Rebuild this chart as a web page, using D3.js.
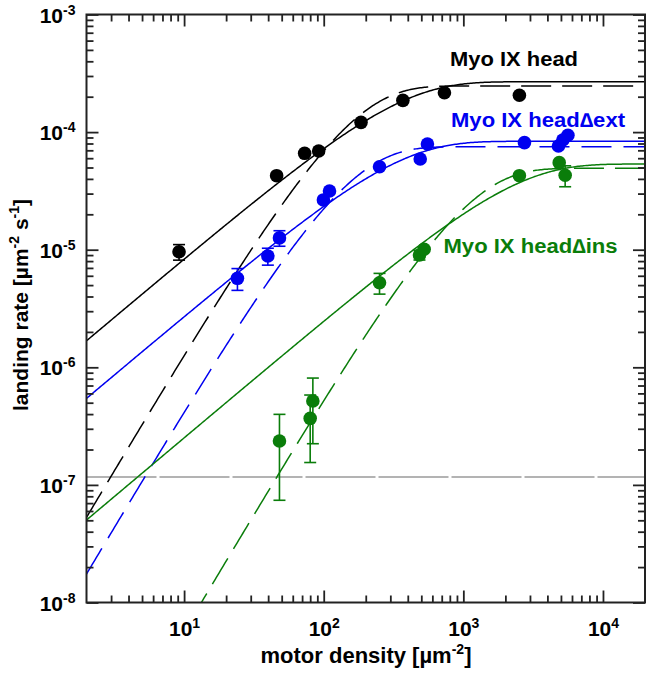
<!DOCTYPE html>
<html><head><meta charset="utf-8">
<script src="https://cdn.jsdelivr.net/npm/d3@7"></script>
<style>
body{margin:0;background:#fff}
svg{display:block}
text{font-family:"Liberation Sans",Arial,sans-serif;font-weight:bold}
</style>
</head><body><svg id="c" width="652" height="674"></svg>
<script>
// ---- data ----
const seriesNames = ["Myo IX head", "Myo IX head\u2206ext", "Myo IX head\u2206ins"];
const seriesColors = ["#000000", "#0000f0", "#0a7d0a"];

const blackX   = [9.2, 46, 73, 92, 185, 369, 732, 2520];
const blackY   = [9.6e-6, 4.26e-5, 6.6e-5, 6.9e-5, 1.21e-4, 1.86e-4, 2.16e-4, 2.06e-4];
const blackErr = [1.45e-6, 0, 0, 0, 0, 0, 0, 0];

const blueX   = [24.1, 39.8, 48.2, 99.5, 110, 251, 491, 553, 2740, 4800, 5160, 5610];
const blueY   = [5.71e-6, 8.84e-6, 1.26e-5, 2.65e-5, 3.16e-5, 5.08e-5, 5.9e-5, 7.92e-5, 8.13e-5, 7.62e-5, 8.57e-5, 9.39e-5];
const blueErr = [1.2e-6, 1.45e-6, 1.9e-6, 0, 0, 0, 0, 0, 0, 0, 0, 0];

const greenX   = [48.2, 80, 83.6, 251, 485, 524, 2520, 4860, 5360];
const greenY   = [2.36e-7, 3.68e-7, 5.17e-7, 5.24e-6, 9.02e-6, 1.01e-5, 4.26e-5, 5.5e-5, 4.3e-5];
const greenErr = [1.62e-7, 2.13e-7, 2.93e-7, 1.05e-6, 8.5e-7, 0, 0, 0, 8.7e-6];

// fit parameters: [plateau rate, characteristic density]
const fitSolidA  = [2.68e-4, 8.35e-5, 5.35e-5];
const fitSolidK  = [318, 306, 2127];
const fitDashA   = [2.47e-4, 7.51e-5, 4.92e-5];
const fitDashK   = [95.9, 92.1, 655];

const backgroundRate = 1.17e-7;

const xTickExp = [1, 2, 3, 4];
const yTickExp = [-8, -7, -6, -5, -4, -3];
const xTitle = "motor density [\u00b5m";
const yTitle = "landing rate [\u00b5m";

// ---- layout ----
const svg = d3.select("#c");
const L = 86.5, R = 645, T = 14.5, B = 602.5;
const x = d3.scaleLog().domain([2, 20000]).range([L, R]);
const y = d3.scaleLog().domain([1e-8, 1e-3]).range([B, T]);

svg.append("defs").append("clipPath").attr("id", "clip")
  .append("rect").attr("x", L).attr("y", T).attr("width", R - L).attr("height", B - T);

// background line
svg.append("line")
  .attr("x1", L).attr("x2", R).attr("y1", y(backgroundRate)).attr("y2", y(backgroundRate))
  .attr("stroke", "#9a9a9a").attr("stroke-width", 1.5).attr("stroke-dasharray", "70,3");

// fit curves (one-motor and two-motor landing models)
const dens = d3.range(0, 401).map(i => Math.pow(10, Math.log10(2) + i * 4 / 400));
const one = (A, K) => d => A * (1 - Math.exp(-d / K));
const two = (A, K) => d => { const u = d / K; return A * (-Math.expm1(-u) - u * Math.exp(-u)); };
const line = d3.line().x(d => x(d[0])).y(d => y(d[1]));
const curves = svg.append("g").attr("clip-path", "url(#clip)");
const dashes = ["30,11", "30,12", "30,11"];
for (let s = 0; s < 3; s++) {
  const f1 = one(fitSolidA[s], fitSolidK[s]);
  const f2 = two(fitDashA[s], fitDashK[s]);
  curves.append("path").attr("d", line(dens.map(d => [d, Math.max(f1(d), 1e-12)])))
    .attr("fill", "none").attr("stroke", seriesColors[s]).attr("stroke-width", 1.5);
  curves.append("path").attr("d", line(dens.map(d => [d, Math.max(f2(d), 1e-12)])))
    .attr("fill", "none").attr("stroke", seriesColors[s]).attr("stroke-width", 1.5)
    .attr("stroke-dasharray", dashes[s]);
}

// points with error bars
const sets = [[blackX, blackY, blackErr], [blueX, blueY, blueErr], [greenX, greenY, greenErr]];
sets.forEach(([xs, ys, es], s) => {
  const g = svg.append("g");
  const c = seriesColors[s];
  xs.forEach((xv, i) => {
    const e = es[i];
    if (e > 0) {
      const hi = y(ys[i] + e), lo = y(ys[i] - e), cx = x(xv);
      g.append("line").attr("x1", cx).attr("x2", cx).attr("y1", hi).attr("y2", lo).attr("stroke", c).attr("stroke-width", 1.6);
      g.append("line").attr("x1", cx - 6).attr("x2", cx + 6).attr("y1", hi).attr("y2", hi).attr("stroke", c).attr("stroke-width", 1.6);
      g.append("line").attr("x1", cx - 6).attr("x2", cx + 6).attr("y1", lo).attr("y2", lo).attr("stroke", c).attr("stroke-width", 1.6);
    }
  });
  g.selectAll("circle").data(xs.map((xv, i) => [xv, ys[i]])).join("circle")
    .attr("cx", d => x(d[0])).attr("cy", d => y(d[1])).attr("r", 6.8).attr("fill", c);
});

// axes
function minorTicks(lo, hi) {
  const out = [];
  for (let e = lo; e < hi; e++) for (let m = 2; m <= 9; m++) out.push(m * Math.pow(10, e));
  return out;
}
const xMinor = minorTicks(0, 5).filter(v => v > 2 && v < 20000);
const yMinor = minorTicks(-8, -3);
const xMajor = xTickExp.map(e => Math.pow(10, e));
const yMajor = yTickExp.map(e => Math.pow(10, e));

function styleAxis(g) {
  g.select(".domain").remove();
  g.selectAll(".tick line").attr("stroke", "#222").attr("stroke-width", 1.8);
}
// bottom
svg.append("g").attr("transform", `translate(0,${B})`)
  .call(d3.axisBottom(x).tickValues(xMinor).tickSize(-7).tickSizeOuter(0).tickFormat("")).call(styleAxis);
const bx = svg.append("g").attr("transform", `translate(0,${B})`)
  .call(d3.axisBottom(x).tickValues(xMajor).tickSize(-12).tickSizeOuter(0).tickPadding(19).tickFormat(() => "")).call(styleAxis);
bx.selectAll(".tick text").each(function(d) {
  const t = d3.select(this).attr("fill", "#000").attr("font-size", 21).attr("dy", "0.71em");
  t.append("tspan").text("10");
  t.append("tspan").attr("font-size", 14).attr("dy", -8).text(String(Math.round(Math.log10(d))));
});
// top
svg.append("g").attr("transform", `translate(0,${T})`)
  .call(d3.axisTop(x).tickValues(xMinor).tickSize(-7).tickSizeOuter(0).tickFormat("")).call(styleAxis);
svg.append("g").attr("transform", `translate(0,${T})`)
  .call(d3.axisTop(x).tickValues(xMajor).tickSize(-12).tickSizeOuter(0).tickFormat("")).call(styleAxis);
// left
svg.append("g").attr("transform", `translate(${L},0)`)
  .call(d3.axisLeft(y).tickValues(yMinor).tickSize(-7).tickSizeOuter(0).tickFormat("")).call(styleAxis);
const ly = svg.append("g").attr("transform", `translate(${L},0)`)
  .call(d3.axisLeft(y).tickValues(yMajor).tickSize(-12).tickSizeOuter(0).tickPadding(11).tickFormat(() => "")).call(styleAxis);
ly.selectAll(".tick text").each(function(d) {
  const t = d3.select(this).attr("fill", "#000").attr("font-size", 21).attr("dy", "0.36em");
  t.append("tspan").text("10");
  t.append("tspan").attr("font-size", 14).attr("dy", -8).text(String(Math.round(Math.log10(d))));
});
// right
svg.append("g").attr("transform", `translate(${R},0)`)
  .call(d3.axisRight(y).tickValues(yMinor).tickSize(-7).tickSizeOuter(0).tickFormat("")).call(styleAxis);
svg.append("g").attr("transform", `translate(${R},0)`)
  .call(d3.axisRight(y).tickValues(yMajor).tickSize(-12).tickSizeOuter(0).tickFormat("")).call(styleAxis);

// frame
svg.append("rect").attr("x", L).attr("y", T).attr("width", R - L).attr("height", B - T)
  .attr("fill", "none").attr("stroke", "#222").attr("stroke-width", 2);

// series labels
const labelPos = [[450, 65.5], [451, 126.5], [443.5, 252.5]];
const labelLen = [128, 174, 174];
seriesNames.forEach((n, s) => {
  svg.append("text").attr("x", labelPos[s][0]).attr("y", labelPos[s][1])
    .attr("font-size", 20).attr("fill", seriesColors[s])
    .attr("textLength", labelLen[s]).attr("lengthAdjust", "spacingAndGlyphs").text(n);
});

// axis titles
const xt = svg.append("text").attr("x", 366).attr("y", 663).attr("text-anchor", "middle").attr("font-size", 22);
xt.append("tspan").text(xTitle);
xt.append("tspan").attr("font-size", 14).attr("dy", -9).text("-2");
xt.append("tspan").attr("dy", 9).text("]");

const yt = svg.append("text").attr("transform", "translate(28,305) rotate(-90)").attr("text-anchor", "middle").attr("font-size", 21);
yt.append("tspan").text(yTitle);
yt.append("tspan").attr("font-size", 14).attr("dy", -9).text("-2");
yt.append("tspan").attr("dy", 9).text(" s");
yt.append("tspan").attr("font-size", 14).attr("dy", -9).text("-1");
yt.append("tspan").attr("dy", 9).text("]");
</script></body></html>
